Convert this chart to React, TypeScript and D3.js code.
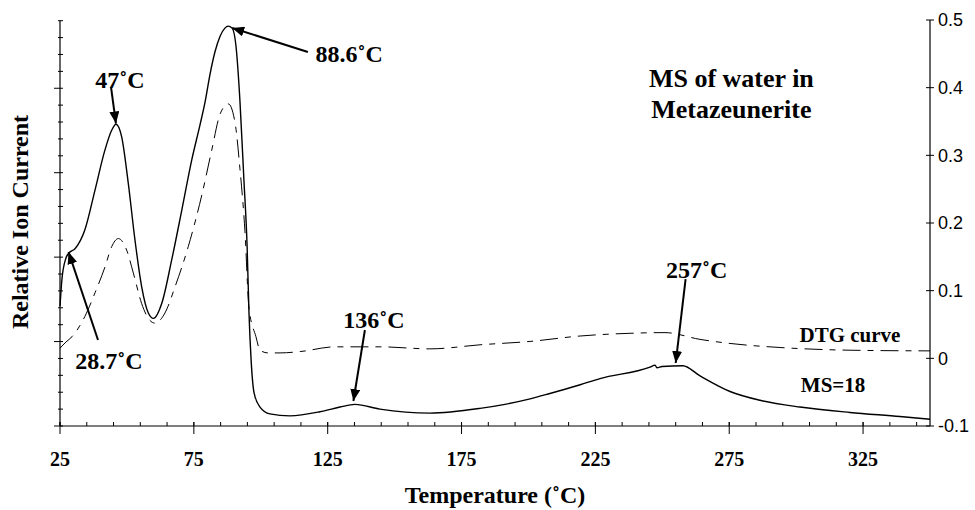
import React from "react";
import * as d3 from "d3";

// ---- data ----
const msTemp = [25.0, 25.7, 27.2, 28.4, 30.6, 34.3, 38.1, 41.8, 44.3, 45.9, 48.0, 50.5, 53.0, 55.5, 58.0, 59.9, 63.0, 66.7, 70.5, 74.2, 77.3, 79.2, 81.0, 82.9, 84.8, 86.6, 87.8, 89.3, 90.7, 92.2, 93.7, 94.9, 95.6, 96.4, 97.5, 99.7, 103.4, 110.9, 122.1, 129.6, 135.2, 144.5, 163.2, 181.9, 191.2, 200.6, 208.0, 219.3, 226.7, 245.4, 247.3, 248.0, 249.9, 257.7, 264.1, 275.3, 286.5, 301.4, 320.1, 338.8, 350.0];
const msValue = [0.077, 0.116, 0.148, 0.156, 0.162, 0.190, 0.249, 0.308, 0.337, 0.346, 0.328, 0.259, 0.175, 0.106, 0.067, 0.059, 0.081, 0.145, 0.219, 0.293, 0.345, 0.379, 0.419, 0.453, 0.476, 0.488, 0.491, 0.488, 0.463, 0.382, 0.264, 0.165, 0.067, -0.003, -0.051, -0.072, -0.082, -0.085, -0.079, -0.072, -0.068, -0.075, -0.081, -0.074, -0.068, -0.060, -0.052, -0.039, -0.030, -0.013, -0.010, -0.014, -0.012, -0.011, -0.026, -0.049, -0.062, -0.072, -0.080, -0.086, -0.090];

const dtgTemp = [25.0, 27.2, 29.5, 34.3, 38.1, 41.8, 44.3, 46.8, 49.9, 52.4, 55.5, 58.0, 60.5, 64.2, 68.0, 72.9, 77.9, 81.7, 84.8, 87.9, 90.4, 92.2, 94.1, 95.6, 98.2, 99.7, 102.7, 107.2, 114.7, 127.7, 144.5, 163.2, 181.9, 200.6, 219.3, 237.9, 251.0, 264.1, 275.3, 294.0, 320.1, 350.0];
const dtgValue = [0.015, 0.024, 0.032, 0.062, 0.097, 0.135, 0.165, 0.177, 0.160, 0.126, 0.081, 0.059, 0.052, 0.067, 0.106, 0.165, 0.240, 0.308, 0.361, 0.376, 0.348, 0.281, 0.187, 0.074, 0.032, 0.012, 0.008, 0.008, 0.010, 0.017, 0.017, 0.014, 0.020, 0.025, 0.033, 0.037, 0.038, 0.028, 0.022, 0.016, 0.012, 0.011];

const xTickLabels = [25, 75, 125, 175, 225, 275, 325];
const rightTickLabels = [-0.1, 0, 0.1, 0.2, 0.3, 0.4, 0.5];

// annotations: label, text anchor (T, v), arrow tail (T, v), arrow tip (T, v)
const annLabels = ["47˚C", "88.6˚C", "28.7˚C", "136˚C", "257˚C"];
const annText = [[47.4, 0.3995], [133.0, 0.4379], [43.3, -0.0158], [142.3, 0.0448], [262.8, 0.1187]];
const annTail = [[44.05, 0.401], [117.6, 0.4527], [39.2, 0.0271], [138.9, 0.0419], [258.7, 0.1172]];
const annTip = [[45.9, 0.347], [89.3, 0.4882], [28.2, 0.1571], [134.6, -0.0631], [255.0, -0.0069]];

const W = 975;
const H = 510;

export default function App() {
  const x = d3.scaleLinear().domain([25, 350]).range([60, 930]);
  const y = d3.scaleLinear().domain([-0.1, 0.5]).range([426, 20]);
  const yLeft = d3.scaleLinear().domain([0, 1.2]).range([426, 20.7]);

  const line = d3
    .line<[number, number]>()
    .x((d) => x(d[0]))
    .y((d) => y(d[1]))
    .curve(d3.curveMonotoneX);

  const msPath = line(msTemp.map((t, i) => [t, msValue[i]] as [number, number])) || "";
  const dtgPath = line(dtgTemp.map((t, i) => [t, dtgValue[i]] as [number, number])) || "";

  const minorX = d3.range(25, 351, 10);
  const leftTicks = d3.range(0, 25).map((i) => i * 0.05);

  const serif = "'Liberation Serif', 'Times New Roman', serif";
  const sans = "'Liberation Sans', Arial, sans-serif";

  return (
    <svg
      width={W}
      height={H}
      style={{ position: "absolute", left: 0, top: 0, background: "#fff" }}
      fontFamily={serif}
    >
      <defs>
        <marker
          id="ah"
          markerUnits="userSpaceOnUse"
          markerWidth={14}
          markerHeight={10}
          refX={12}
          refY={5}
          orient="auto"
        >
          <path d="M0,0 L12,5 L0,10 Z" fill="#000" />
        </marker>
      </defs>
      <rect x={0} y={0} width={W} height={H} fill="#fff" />

      {/* bottom axis */}
      <line x1={x(25)} x2={x(350)} y1={y(-0.1)} y2={y(-0.1)} stroke="#000" strokeWidth={1.2} />
      {minorX.map((t) => (
        <line key={"mx" + t} x1={x(t)} x2={x(t)} y1={y(-0.1) - 4} y2={y(-0.1)} stroke="#000" strokeWidth={1} />
      ))}
      {xTickLabels.map((t) => (
        <g key={"xt" + t}>
          <line x1={x(t)} x2={x(t)} y1={y(-0.1) - 4} y2={y(-0.1) + 8} stroke="#000" strokeWidth={1} />
          <text x={x(t)} y={466} textAnchor="middle" fontSize={20} fontWeight="bold">
            {t}
          </text>
        </g>
      ))}
      <text x={(x(25) + x(350)) / 2} y={503} textAnchor="middle" fontSize={24} fontWeight="bold">
        Temperature (˚C)
      </text>

      {/* left axis (no labels) */}
      <line x1={x(25)} x2={x(25)} y1={yLeft(0)} y2={yLeft(1.2)} stroke="#000" strokeWidth={1.2} />
      {leftTicks.map((v, i) => (
        <line
          key={"lt" + i}
          x1={x(25) - (i % 5 === 0 ? 6 : 2)}
          x2={x(25) + 3}
          y1={yLeft(v)}
          y2={yLeft(v)}
          stroke="#000"
          strokeWidth={1}
        />
      ))}
      <text
        transform={`translate(28, 222) rotate(-90)`}
        textAnchor="middle"
        fontSize={24}
        fontWeight="bold"
      >
        Relative Ion Current
      </text>

      {/* right axis */}
      <line x1={x(350)} x2={x(350)} y1={y(-0.1)} y2={y(0.5)} stroke="#000" strokeWidth={1.2} />
      {rightTickLabels.map((v) => (
        <g key={"rt" + v}>
          <line x1={x(350) - 4} x2={x(350) + 4} y1={y(v)} y2={y(v)} stroke="#000" strokeWidth={1} />
          <text x={x(350) + 8} y={y(v)} dy="0.35em" fontSize={18} fontFamily={sans}>
            {v}
          </text>
        </g>
      ))}

      {/* curves */}
      <path d={dtgPath} fill="none" stroke="#000" strokeWidth={1} strokeDasharray="18,7,6,7" />
      <path d={msPath} fill="none" stroke="#000" strokeWidth={1.4} />

      {/* annotations */}
      {annLabels.map((lab, i) => (
        <g key={"an" + i}>
          <line
            x1={x(annTail[i][0])}
            y1={y(annTail[i][1])}
            x2={x(annTip[i][0])}
            y2={y(annTip[i][1])}
            stroke="#000"
            strokeWidth={2}
            markerEnd="url(#ah)"
          />
          <text x={x(annText[i][0])} y={y(annText[i][1])} textAnchor="middle" fontSize={24} fontWeight="bold">
            {lab}
          </text>
        </g>
      ))}

      <text x={x(320.1)} y={y(0.0246)} textAnchor="middle" fontSize={21} fontWeight="bold">
        DTG curve
      </text>
      <text x={x(313.8)} y={y(-0.0493)} textAnchor="middle" fontSize={21} fontWeight="bold">
        MS=18
      </text>

      <text x={x(275.8)} textAnchor="middle" fontSize={26} fontWeight="bold">
        <tspan x={x(275.8)} y={y(0.4014)}>MS of water in</tspan>
        <tspan x={x(275.8)} y={y(0.3552)}>Metazeunerite</tspan>
      </text>
    </svg>
  );
}
